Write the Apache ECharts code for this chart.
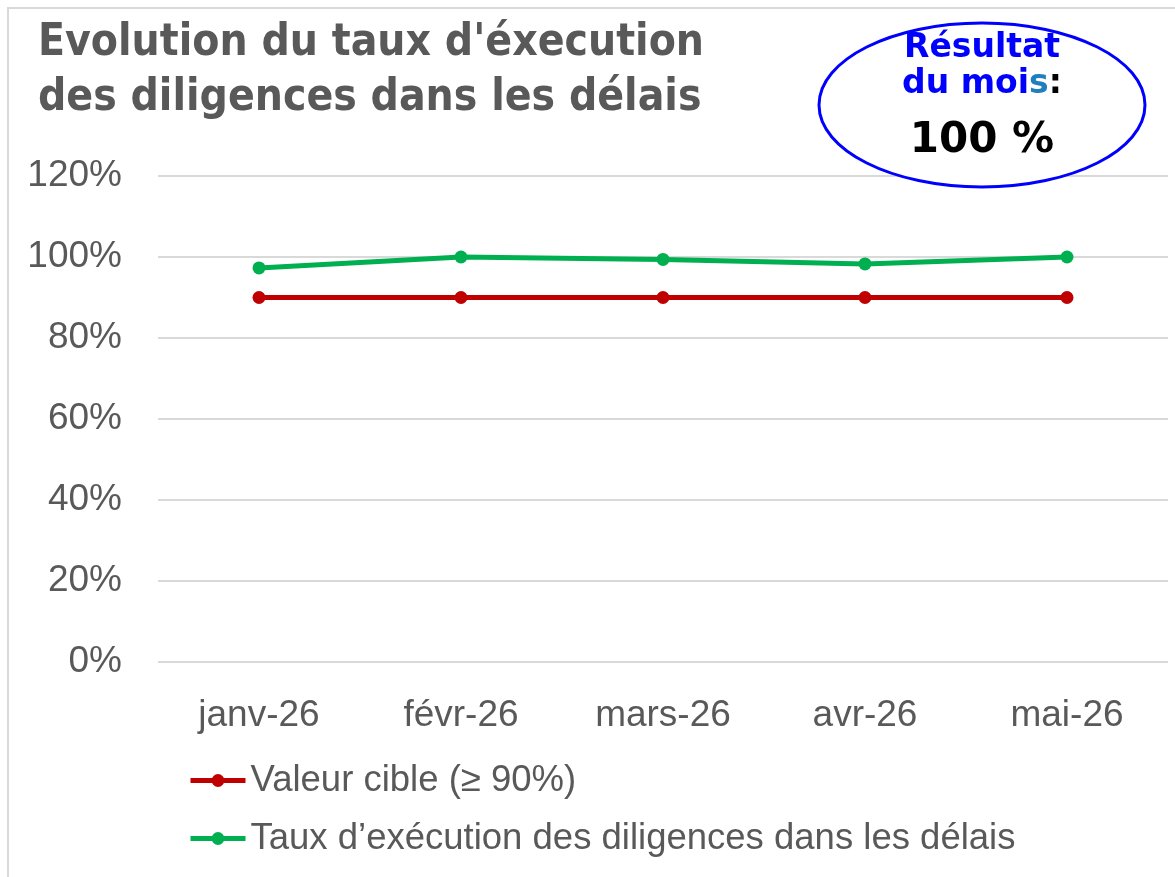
<!DOCTYPE html>
<html><head><meta charset="utf-8">
<script src="https://cdn.jsdelivr.net/npm/echarts@6/dist/echarts.min.js"></script>
<style>html,body{margin:0;padding:0;background:#fff}#c{width:1175px;height:877px}</style>
</head><body><div id="c"></div>
<script>
const categories = ['janv-26', 'févr-26', 'mars-26', 'avr-26', 'mai-26'];
const cibleValues = [0.90, 0.90, 0.90, 0.90, 0.90];
const tauxValues = [0.973, 1.00, 0.994, 0.983, 1.00];
const seriesNames = ['Valeur cible (≥ 90%)', 'Taux d’exécution des diligences dans les délais'];
const titleLines = ["Evolution du taux d'éxecution", 'des diligences dans les délais'];
const resultText = '100 %';

const chart = echarts.init(document.getElementById('c'), null, {renderer: 'canvas'});
const FONT = 'Liberation Sans';
chart.setOption({
  backgroundColor: '#fff',
  animation: false,
  grid: {left: 158, right: 7, top: 176, bottom: 215, containLabel: false},
  xAxis: {
    type: 'category', data: categories, boundaryGap: true,
    axisLine: {show: false}, axisTick: {show: false},
    axisLabel: {color: '#595959', fontSize: 37, fontFamily: FONT, margin: 35}
  },
  yAxis: {
    type: 'value', min: 0, max: 1.2, interval: 0.2,
    axisLine: {show: false}, axisTick: {show: false},
    splitLine: {lineStyle: {color: '#d9d9d9', width: 2}},
    axisLabel: {color: '#595959', fontSize: 37, fontFamily: FONT, margin: 36,
      formatter: v => Math.round(v * 100) + '%'}
  },
  legend: {
    orient: 'vertical', left: 188, top: 762, itemGap: 21, padding: 0,
    itemWidth: 55, itemHeight: 16,
    lineStyle: {width: 5},
    textStyle: {color: '#595959', fontSize: 36.5, fontFamily: FONT, padding: [0, 0, 0, 0]},
    data: seriesNames
  },
  series: [
    {name: seriesNames[0], type: 'line', data: cibleValues, color: '#C00000',
     symbol: 'circle', symbolSize: 13, lineStyle: {width: 5, color: '#C00000'},
     itemStyle: {color: '#C00000'}},
    {name: seriesNames[1], type: 'line', data: tauxValues, color: '#00B050',
     symbol: 'circle', symbolSize: 13, lineStyle: {width: 5, color: '#00B050'},
     itemStyle: {color: '#00B050'}}
  ],
  graphic: [
    {type: 'rect', shape: {x: 8, y: 8, width: 1180, height: 900}, silent: true,
     style: {fill: 'none', stroke: '#d9d9d9', lineWidth: 2}, z: -1},
    {type: 'text', left: 38, top: 16, style: {text: titleLines.join('\n'), fill: '#595959',
      font: 'bold 44px "DejaVu Sans Condensed"', lineHeight: 55}},
    {type: 'ellipse', shape: {cx: 982, cy: 105, rx: 163, ry: 82},
     style: {fill: '#fff', stroke: '#0000FF', lineWidth: 3}, z: 10},
    {type: 'text', x: 982, y: 30, z: 11, style: {
      text: '{b|Résultat}\n{b|du moi}{c|s}{k|:}', align: 'center', lineHeight: 36,
      rich: {
        b: {fill: '#0000FF', font: 'bold 33px "DejaVu Sans"', lineHeight: 36},
        c: {fill: '#1F7FBF', font: 'bold 33px "DejaVu Sans"', lineHeight: 36},
        k: {fill: '#000', font: 'bold 33px "DejaVu Sans"', lineHeight: 36}
      }}},
    {type: 'text', x: 982, y: 120, z: 11, style: {text: resultText, align: 'center',
      fill: '#000', font: 'bold 42px "DejaVu Sans"'}}
  ]
});
</script></body></html>
